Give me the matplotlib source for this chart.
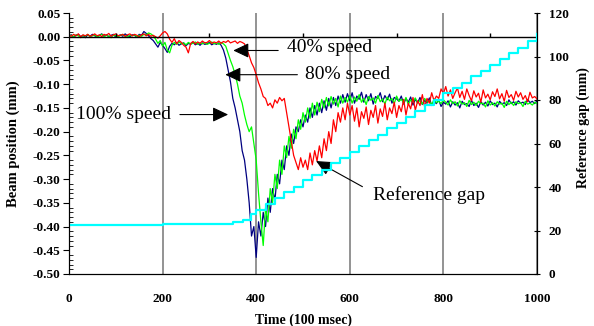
import numpy as np
import matplotlib
matplotlib.use("Agg")
import matplotlib.pyplot as plt
from matplotlib.ticker import MultipleLocator, FormatStrFormatter

plt.rcParams['font.family'] = 'serif'
plt.rcParams['font.serif'] = ['Liberation Serif', 'DejaVu Serif']
plt.rcParams['axes.unicode_minus'] = False

# =========================
# DATA (beam position in 0.001 mm, sampled every 5 time units)
# =========================
time = np.arange(0, 1001, 5)

speed_100 = [
    2, 4, -1, 3, 5, 0, 3, -2, 4, 1, 5, 2, -1, 3, 6, 1, 4, 0, 3, 5,
    -1, 2, 4, 1, 6, 2, 0, 4, 3, -1, 5, 3, 11, 7, 2, -4,
    -8, -15, -22, -12, -18, -25, -33, -20, -14, -17, -12, -18, -15, -13, -19,
    -14, -16, -12, -17, -14, -18, -13, -16, -15, -12, -17, -14, -16, -13, -18,
    -28, -45, -70, -95, -130, -150, -175, -200, -240, -260,
    -300, -350, -420, -400, -465, -390, -420, -370, -400, -340,
    -370, -320, -345, -290, -310, -260, -280, -230, -250, -205,
    -225, -190, -200, -175, -190, -165, -180, -150, -170, -145,
    -165, -140, -160, -135, -155, -130, -150, -128, -145, -125,
    -140, -122, -138, -120, -135,
    -118, -140, -125, -132, -117, -138, -122, -135, -120, -142,
    -126, -130, -118, -137, -124, -133, -121, -140, -128, -131,
    -136, -125, -142, -130, -138, -127, -144, -132, -139, -128,
    -143, -134, -140, -129, -145, -136, -141, -133, -147, -138,
    -142, -135, -148, -137, -144, -139, -150, -136, -143, -141,
    -147, -134, -145, -140, -149, -137, -144, -138, -146, -135,
    -143, -140, -148, -136, -142, -139, -145, -133, -141, -137,
    -144, -135, -140, -138, -143, -132, -139, -136, -141, -135,
]

speed_80 = [
    1, 3, 0, 4, 2, -2, 3, 1, 5, 0, 2, 4, -1, 2, 5, 0, 3, 1, -2, 4,
    2, 0, 3, 5, 1, -1, 3, 2, 4, 0, 3, 1, 5, 4, 8, 6,
    2, -5, -14, -8, -20, -12, -28, -34, -18, -12,
    -16, -11, -15, -13, -17, -12, -15, -14, -11, -16,
    -13, -15, -12, -16, -14, -11, -15, -13, -16, -12, -15, -20,
    -35, -50, -63, -80, -100, -125, -140, -165, -185, -200,
    -190, -225, -260, -330, -390, -440, -360, -390, -320, -350,
    -290, -320, -260, -290, -230, -255, -210, -235, -195, -215,
    -175, -195, -160, -180, -150, -172, -140, -165, -138, -158,
    -132, -150, -128, -146, -126, -142, -130, -148, -125, -140,
    -128, -138, -124,
    -140, -127, -136, -122, -138, -130, -143, -126, -134, -129,
    -140, -124, -137, -131, -142, -127, -135, -130, -141, -125,
    -136, -132, -139, -128, -143, -133, -137, -129, -140, -134,
    -142, -130, -138, -135, -144, -131, -139, -136, -141, -133,
    -138, -144, -133, -141, -137, -146, -135, -142, -139, -147,
    -134, -143, -138, -145, -136, -141, -140, -148, -135, -144,
    -139, -146, -137, -142, -140, -149, -136, -143, -138, -145,
    -137, -141, -139, -147, -136, -142, -140, -144, -138, -141,
]

speed_40 = [
    3, 1, 5, 2, 6, 0, 4, 2, 5, 1, 3, 6, 2, 4, 0, 5, 3, 7, 1, 4,
    6, 2, 3, 5, 1, 4, 6, 2, 5, 3, 0, 4, 6, 2, 5, 1, 3, 0,
    -3, 2, 8, 11, 6, -5, -12, -4, -15, -8,
    -12, -18, -22, -34, -14, -10, -15, -11, -14, -9,
    -13, -12, -8, -14, -11, -13, -9, -14, -10, -12,
    -8, -13, -11, -9, -14, -10, -12, -15,
    -27, -40, -55, -65, -80, -97, -110, -126, -130, -145,
    -140, -150, -133, -140, -128, -135, -130, -160, -190, -220,
    -250, -265, -280, -255, -275, -260, -280, -245, -270, -240,
    -262, -230, -255, -215, -240, -200, -225, -175, -200, -160,
    -180, -150, -175, -140, -165,
    -145, -178, -150, -190, -158, -172, -148, -185, -155, -170,
    -145, -182, -152, -168, -140, -175, -150, -162, -138, -170,
    -145, -158, -132, -165, -140, -152, -128, -155, -135, -145,
    -122, -148, -130, -140, -118, -135, -125, -130, -110, -120,
    -105, -125, -112, -130, -118, -108, -128, -115, -132, -110,
    -124, -135, -114, -127, -119, -138, -112, -129, -121, -133,
    -116, -126, -110, -131, -120, -136, -113, -128, -122, -134,
    -115, -127, -118, -132, -124, -137, -117, -129, -126, -131,
]

# reference gap (mm), stepwise
gap_time = [0, 200, 350, 372, 388, 400, 420, 440, 460, 480, 500, 520, 540,
            560, 580, 600, 620, 640, 660, 680, 700, 720, 740, 760, 780, 800,
            820, 840, 860, 880, 900, 920, 940, 960, 980, 1000]
gap_mm = [22.3, 23, 23.8, 24.8, 27.4, 29.5, 32, 35, 37.5, 40, 43, 45.5, 48,
          51, 53.5, 56, 59, 61.5, 64, 67, 69.5, 72, 75, 77.5, 80, 83,
          85.5, 88, 91, 93.5, 96, 99, 101.5, 104, 107, 110.5]

x_ticks = [0, 200, 400, 600, 800, 1000]
zero_minor = [100, 300, 500, 700, 900]

b100 = np.array(speed_100) / 1000
b80 = np.array(speed_80) / 1000
b40 = np.array(speed_40) / 1000

# =========================
# PLOT
# =========================
fig = plt.figure(figsize=(5.94, 3.26), dpi=100)
ax = fig.add_axes([69 / 594, 1 - 274 / 326, 468 / 594, 261 / 326])

ax.plot(time, b100, color='#000080', lw=0.9)
ax.plot(time, b80, color='#00ff00', lw=0.9)
ax.plot(time, b40, color='#ff0000', lw=0.9)

ax.set_xlim(0, 1000)
ax.set_ylim(-0.50, 0.05)
ax.set_xticks(x_ticks)
ax.grid(axis='x', color='#808080', lw=1.2)
ax.axhline(0, color='black', lw=1.0)
ax.plot(zero_minor, [0] * len(zero_minor), ls='none', marker=2, ms=3,
        mew=1, color='black')

ax.yaxis.set_major_locator(MultipleLocator(0.05))
ax.yaxis.set_minor_locator(MultipleLocator(0.01))
ax.yaxis.set_major_formatter(FormatStrFormatter('%.2f'))
ax.tick_params(axis='x', length=0, pad=14, labelsize=9.5)
ax.tick_params(axis='y', which='major', direction='out', length=4, pad=2,
               labelsize=9.5)
ax.tick_params(axis='y', which='minor', direction='in', length=3)
for lab in ax.get_xticklabels() + ax.get_yticklabels():
    lab.set_fontweight('bold')
ax.spines['top'].set_visible(False)

ax.set_xlabel("Time (100 msec)", fontsize=10, fontweight='bold')
ax.xaxis.set_label_coords(0.502, -0.152)
ax.set_ylabel("Beam position (mm)", fontsize=10.5, fontweight='bold')
ax.yaxis.set_label_coords(-0.105, 0.5)

ax2 = ax.twinx()
ax2.plot(gap_time, gap_mm, color='#00ffff', lw=1.6, drawstyle='steps-post')
ax2.set_ylim(0, 120)
ax2.set_yticks([0, 20, 40, 60, 80, 100, 120])
ax2.tick_params(axis='y', direction='inout', length=5, pad=6, labelsize=9.5)
for lab in ax2.get_yticklabels():
    lab.set_fontweight('bold')
ax2.spines['top'].set_visible(False)
ax2.set_ylabel("Reference gap (mm)", fontsize=10, fontweight='bold',
               rotation=90, va='center', ha='center')
ax2.yaxis.set_label_coords(1.098, 0.56)

# =========================
# ANNOTATIONS
# =========================
arrow = dict(arrowstyle='-|>,head_length=0.95,head_width=0.45', color='black',
             lw=0.8, mutation_scale=10, shrinkA=0, shrinkB=0)

ax.annotate('', xy=(351, -0.029), xytext=(447, -0.029), arrowprops=arrow)
ax.text(466, -0.022, '40% speed', fontsize=14, va='center', ha='left')

ax.annotate('', xy=(334, -0.080), xytext=(488, -0.080), arrowprops=arrow)
ax.text(505, -0.080, '80% speed', fontsize=14, va='center', ha='left')

ax.annotate('', xy=(340, -0.164), xytext=(237, -0.164), arrowprops=arrow)
ax.text(15, -0.164, '100% speed', fontsize=14, va='center', ha='left')

ax.annotate('', xy=(528, -0.262), xytext=(627, -0.316), arrowprops=arrow)
ax.text(650, -0.333, 'Reference gap', fontsize=14, va='center', ha='left')

fig.savefig("out.png", dpi=100)
